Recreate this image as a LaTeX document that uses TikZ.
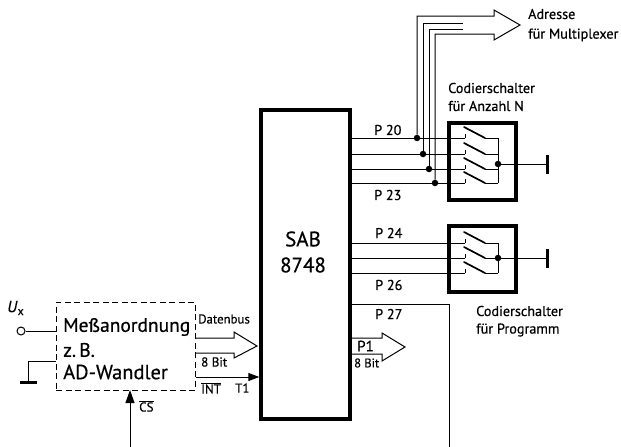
\documentclass[tikz,border=0pt]{standalone}
\usepackage{fontspec}
\setmainfont[FakeBold=0.5]{PT Sans}
\usetikzlibrary{arrows.meta}
\tikzset{
  wire/.style={draw=black,line width=1pt,line join=miter},
  heavy/.style={draw=black,line width=3.4pt,inner sep=0pt,minimum width=#1},
  arm/.style={draw=black,line width=1.7pt,line cap=round},
  dotn/.style={circle,fill=black,inner sep=0pt,minimum size=6.5pt},
  lab/.style={inner sep=0pt,anchor=west,font=\fontsize{#1}{#1}\selectfont},
  lab/.default=14.2,
}
\newcommand{\switchleg}[2]{% name, line end y
  \coordinate (#1pin) at (465,#2);
  \coordinate (#1arm) at (464,#2-11);
  \coordinate (#1tip) at (485,#2);
  \coordinate (#1com) at (498,#2);
  \draw[wire] (#1pin) -- ++(0,-4.5);
  \draw[arm] (#1arm) -- (#1tip);
  \draw[wire] (#1tip) -- (#1com);
}
\begin{document}
\begin{tikzpicture}[x=1pt,y=-1pt]
\useasboundingbox (0,0) rectangle (621,447);
% boxes
\node[heavy=89pt,minimum height=309pt] (chip) at (305.5,264.5) {};
\node[heavy=67pt,minimum height=77pt] (swa) at (482.5,161.5) {};
\node[heavy=67pt,minimum height=66pt] (swb) at (482.5,259) {};
\node[draw=black,line width=1pt,dash pattern=on 6pt off 3.5pt,minimum width=139pt,minimum height=88pt,inner sep=0pt] (adc) at (125.5,346) {};
% chip labels
\node[inner sep=0pt,font=\fontsize{21}{21}\selectfont] (sab) at (303,239) {SAB};
\node[inner sep=0pt,font=\fontsize{21}{21}\selectfont] (num) at (303,265) {8748};
% first switch
\foreach \n/\y in {a/138,b/154,c/169,d/183}{
  \coordinate (l\n) at (chip.east |- 0,\y);
  \switchleg{\n}{\y}
  \draw[wire] (l\n) -- (\n pin);
}
\draw[wire] (acom) -- (dcom);
\node[dotn] (dota) at (498,164) {};
\node[draw=black,fill=black,inner sep=0pt,minimum width=2.6pt,minimum height=18pt] (gnda) at (547,164) {};
\draw[wire] (dota) -- (gnda);
% bus taps
\node[dotn] (ta) at (417,138) {};
\node[dotn] (tb) at (423,154) {};
\node[dotn] (tc) at (429,169) {};
\node[dotn] (td) at (435,183) {};
\coordinate (ha) at (494,16);
\coordinate (hb) at (494,10);
\coordinate (hc) at (520,25);
\coordinate (hd) at (494,40);
\coordinate (he) at (494,34);
\coordinate (ib) at (463,23);
\coordinate (ic) at (463,29);
\draw[wire] (ta) |- (ha) -- (hb) -- (hc) -- (hd) -- (he) -| (td);
\draw[wire] (tb) |- (ib);
\draw[wire] (tc) |- (ic);
% second switch
\foreach \n/\y in {e/243,f/258,g/273}{
  \coordinate (l\n) at (chip.east |- 0,\y);
  \switchleg{\n}{\y}
  \draw[wire] (l\n) -- (\n pin);
}
\draw[wire] (ecom) -- (gcom);
\node[dotn] (dotb) at (498,258) {};
\node[draw=black,fill=black,inner sep=0pt,minimum width=2.6pt,minimum height=18pt] (gndb) at (547,258) {};
\draw[wire] (dotb) -- (gndb);
% P27 line
\coordinate (p27a) at (chip.east |- 0,304);
\coordinate (p27b) at (449,304);
\coordinate (p27c) at (449,447);
\draw[wire] (p27a) -- (p27b) -- (p27c);
% P1 arrow
\coordinate (pa) at (chip.east |- 0,338);
\coordinate (pb) at (chip.east |- 0,354);
\draw[wire] (pa) -- (382,338) -- (382,333) -- (405,347) -- (382,361) -- (382,354) -- (pb);
% Datenbus arrow
\coordinate (da) at (adc.east |- 0,338);
\coordinate (db) at (adc.east |- 0,353);
\draw[wire] (da) -- (234,338) -- (234,332) -- (257,346) -- (234,358) -- (234,353) -- (db);
% INT
\coordinate (ia) at (adc.east |- 0,377);
\coordinate (ie) at (chip.west |- 0,377);
\draw[wire,-{Triangle[length=11pt,width=8pt]}] (ia) -- (ie);
% CS
\coordinate (cs) at (130,447);
\coordinate (cse) at (130,390);
\draw[wire,-{Triangle[length=13pt,width=9pt]}] (cs) -- (cse);
% left side
\node[circle,draw=black,line width=1pt,inner sep=0pt,minimum size=8pt] (ux) at (21,331) {};
\draw[wire] (ux) -- (ux -| adc.west);
\coordinate (gl) at (adc.west |- 0,361);
\coordinate (gm) at (28,361);
\node[fill=black,inner sep=0pt,minimum width=17pt,minimum height=3.4pt] (gnd) at (28,382.5) {};
\draw[wire] (gl) -- (gm) -- (gnd);
% labels
\node[lab] (t1) at (374,130) {P 20};
\node[lab] (t2) at (374,195) {P 23};
\node[lab] (t3) at (375,233) {P 24};
\node[lab] (t4) at (375,285) {P 26};
\node[lab] (t5) at (375,314) {P 27};
\node[lab] (t6) at (528,14) {Adresse};
\node[lab] (t7) at (528,35) {für Multiplexer};
\node[lab] (t8) at (448,88) {Codierschalter};
\node[lab] (t9) at (448,106) {für Anzahl N};
\node[lab] (t10) at (476,311) {Codierschalter};
\node[lab] (t11) at (476,330) {für Programm};
\node[lab=19.5] (t12) at (63,327) {Meßanordnung};
\node[lab=19.5] (t13) at (63,350) {z.\,B.};
\node[lab=20.5] (t14) at (63,372) {AD-Wandler};
\node[lab=12.8] (t15) at (198,319) {Datenbus};
\node[lab=13] (t16) at (201,362) {8 Bit};
\node[lab=13] (t17) at (201,388) {$\overline{\mbox{INT}}$};
\node[lab=13] (t18) at (235,388) {T1};
\node[lab=13] (t19) at (139,406) {$\overline{\mbox{CS}}$};
\node[lab=15] (t20) at (357,346) {P1};
\node[lab=12.5] (t21) at (354,363) {8 Bit};
\node[lab=16] (t22) at (7,308) {\textit{U}\raisebox{-3pt}{\fontsize{12}{12}\selectfont x}};
\end{tikzpicture}
\end{document}
